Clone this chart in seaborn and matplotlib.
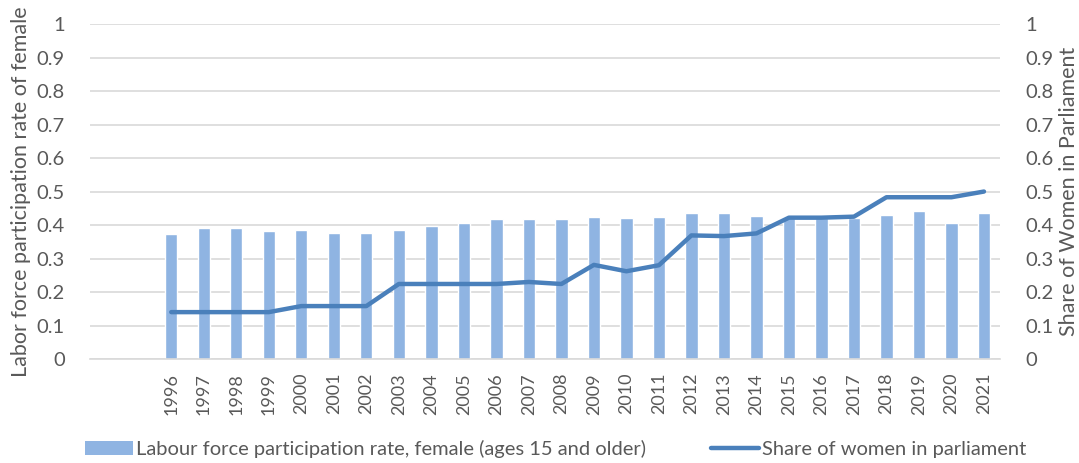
import matplotlib
matplotlib.use("Agg")
import matplotlib.pyplot as plt
import numpy as np
import pandas as pd
import seaborn as sns
from matplotlib.lines import Line2D
from matplotlib.patches import Patch

# data
years = [str(y) for y in range(1996, 2022)]
labour_rate = [0.373, 0.392, 0.390, 0.381, 0.385, 0.377, 0.377, 0.385, 0.396, 0.405,
               0.417, 0.419, 0.419, 0.425, 0.421, 0.425, 0.435, 0.435, 0.427, 0.422,
               0.421, 0.422, 0.431, 0.443, 0.407, 0.437]
women_parliament = [0.140, 0.140, 0.140, 0.140, 0.158, 0.158, 0.158, 0.224, 0.224, 0.224,
                    0.224, 0.230, 0.224, 0.281, 0.262, 0.280, 0.369, 0.367, 0.375, 0.422,
                    0.422, 0.425, 0.483, 0.483, 0.483, 0.500]
y_ticks = [0, 0.1, 0.2, 0.3, 0.4, 0.5, 0.6, 0.7, 0.8, 0.9, 1]
y_tick_labels = ["0", "0.1", "0.2", "0.3", "0.4", "0.5", "0.6", "0.7", "0.8", "0.9", "1"]

bar_label = "Labour force participation rate, female (ages 15 and older)"
line_label = "Share of women in parliament"

df = pd.DataFrame({"year": years, "labour": labour_rate, "parliament": women_parliament})

sns.set_style("white")
plt.rcParams["font.family"] = ["Lato", "DejaVu Sans"]

bar_color = "#8fb4e2"
line_color = "#4a80bb"
text_color = "#595959"

fig = plt.figure(figsize=(10.79, 4.63), dpi=100)
ax = fig.add_axes([0.0834, 0.2246, 0.927 - 0.0834, 0.948 - 0.2246])

sns.barplot(data=df, x="year", y="labour", color=bar_color, width=0.38,
            saturation=1, ax=ax, zorder=2)
ax.set_xlim(-2.5, len(years) - 0.5)
ax.set_ylim(0, 1)
ax.set_yticks(y_ticks)
ax.set_yticklabels(y_tick_labels)
ax.grid(axis="y", color="#d9d9d9", linewidth=1.2, zorder=0)
ax.set_axisbelow(True)
ax.tick_params(axis="x", rotation=90, labelsize=13, colors=text_color, length=0, pad=10)
ax.tick_params(axis="y", labelsize=14.5, colors=text_color, length=0, pad=18)
ax.set_xlabel("")
ax.set_ylabel("Labor force participation rate of female", fontsize=15.5, color=text_color,
              labelpad=4)
for s in ["top", "right", "left"]:
    ax.spines[s].set_visible(False)
ax.spines["bottom"].set_color("#d9d9d9")
ax.spines["bottom"].set_linewidth(1.2)

ax2 = ax.twinx()
sns.lineplot(x=np.arange(len(years)), y=df["parliament"], color=line_color, linewidth=3.2,
             ax=ax2, zorder=3)
ax2.set_xlim(-2.5, len(years) - 0.5)
ax2.set_ylim(0, 1)
ax2.set_yticks(y_ticks)
ax2.set_yticklabels(y_tick_labels)
ax2.tick_params(axis="y", labelsize=14.5, colors=text_color, length=0, pad=18)
ax2.set_ylabel("Share of Women in Parliament", fontsize=15.5, color=text_color, labelpad=4)
for s in ax2.spines.values():
    s.set_visible(False)

handles = [Patch(facecolor=bar_color, edgecolor="none"),
           Line2D([0], [0], color=line_color, linewidth=3.2)]
fig.legend(handles, [bar_label, line_label], loc="center", ncol=2, frameon=False,
           bbox_to_anchor=(0.515, 0.03), fontsize=14.5, handlelength=2.4, handletextpad=0.15,
           columnspacing=3.2, labelcolor=text_color, borderpad=0)

fig.savefig("out.png", dpi=100)
